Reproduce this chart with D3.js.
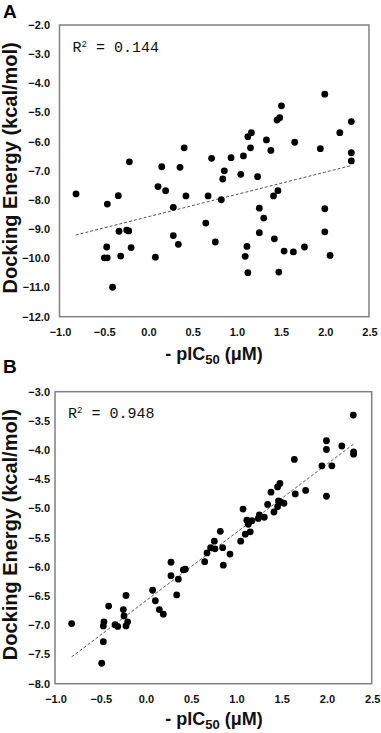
<!DOCTYPE html>
<html><head><meta charset="utf-8">
<script src="https://cdn.jsdelivr.net/npm/d3@7"></script>
<style>html,body{margin:0;padding:0;background:#fff;}svg{display:block;}</style>
</head><body>
<svg id="c" width="381" height="733"></svg>
<script>
// ---- DATA ----
const xTicks = [-1.0, -0.5, 0.0, 0.5, 1.0, 1.5, 2.0, 2.5];
const aYTicks = [-2, -3, -4, -5, -6, -7, -8, -9, -10, -11, -12];
const bYTicks = [-3.0, -3.5, -4.0, -4.5, -5.0, -5.5, -6.0, -6.5, -7.0, -7.5, -8.0];
const aX = [-0.21,0.156,0.363,0.41,0.72,0.94,1.08,0.864,0.846,1.05,1.24,1.13,1.17,1.16,1.34,1.39,1.46,1.49,1.51,1.66,1.95,2.0,2.17,2.30,2.30,2.30,
  -0.813,-0.459,-0.335,0.114,0.20,0.43,0.68,0.83,0.287,1.42,1.47,0.654,-0.327,-0.24,-0.217,0.287,0.344,-0.466,-0.493,-0.46,-0.308,-0.19,-0.40,0.084,0.762,
  1.26,1.31,1.26,1.43,1.12,1.10,1.13,1.48,1.54,1.645,1.77,2.0,2.0,2.06];
const aY = [-6.69,-6.86,-6.88,-6.21,-6.57,-6.55,-6.49,-7.0,-7.28,-7.12,-7.2,-5.83,-5.69,-6.21,-5.94,-6.30,-5.26,-5.18,-4.77,-6.02,-6.24,-4.37,-5.69,-5.31,-6.38,-6.66,
  -7.79,-8.14,-7.85,-7.54,-7.68,-7.86,-7.86,-7.99,-8.25,-7.86,-7.68,-8.79,-9.07,-9.03,-9.06,-9.22,-9.52,-9.61,-9.98,-9.98,-9.92,-9.63,-10.99,-9.96,-9.44,
  -8.28,-8.62,-9.12,-9.33,-9.59,-9.93,-10.49,-10.47,-9.75,-9.78,-9.61,-8.30,-9.09,-9.90];
const bX = [2.297,2.0,2.0,2.17,2.30,2.30,1.95,2.06,1.645,2.0,1.655,1.77,1.486,1.46,1.387,1.35,1.47,1.495,1.53,1.46,1.42,1.078,1.12,1.136,1.177,1.258,1.247,1.313,
  1.103,1.158,1.052,0.827,0.761,0.72,0.768,0.853,0.68,0.934,0.654,0.86,0.282,0.282,0.418,0.44,0.363,0.345,0.079,0.109,0.153,0.197,
  -0.215,-0.407,-0.245,-0.237,-0.197,-0.215,-0.337,-0.307,-0.459,-0.466,-0.466,-0.484,-0.816];
const bY = [-3.40,-3.84,-3.99,-3.93,-4.03,-4.07,-4.27,-4.27,-4.16,-4.79,-4.75,-4.69,-4.57,-4.63,-4.72,-4.93,-4.87,-4.89,-4.91,-4.97,-5.06,-5.01,-5.20,-5.27,-5.21,-5.11,-5.17,-5.15,
  -5.44,-5.40,-5.56,-5.39,-5.56,-5.67,-5.69,-5.67,-5.76,-5.78,-5.91,-5.97,-5.92,-6.15,-6.05,-6.04,-6.21,-6.48,-6.40,-6.58,-6.73,-6.81,
  -6.49,-6.67,-6.73,-6.84,-6.94,-7.01,-6.99,-7.02,-6.94,-7.01,-7.28,-7.65,-6.97];
const aFit = [-0.817, 2.305];   // x extent of trend line
const aFitCoef = [0.764, -8.576]; // slope, intercept
const bFit = [-0.816, 2.297];
const bFitCoef = [1.169, -6.586];
const panelLabels = ["A", "B"];
const r2Values = ["0.144", "0.948"];

// ---- DRAW ----
const svg = d3.select("#c");
const panels = [
  {lab: panelLabels[0], r2: r2Values[0], xs: aX, ys: aY, fit: aFit, coef: aFitCoef, yTicks: aYTicks, yDom: [-12, -2],
   xr: [59.5, 369], yr: [316.7, 25], labY: 18, titleOff: 43.5},
  {lab: panelLabels[1], r2: r2Values[1], xs: bX, ys: bY, fit: bFit, coef: bFitCoef, yTicks: bYTicks, yDom: [-8, -3],
   xr: [55, 371.7], yr: [683.7, 391.7], labY: 373, titleOff: 41.3}
];
const fmt = d3.format(".1f");
const sans = "Liberation Sans, Arial, sans-serif";
panels.forEach(p => {
  const x = d3.scaleLinear().domain([-1, 2.5]).range(p.xr);
  const y = d3.scaleLinear().domain(p.yDom).range(p.yr);
  const g = svg.append("g");
  // frame
  g.append("rect").attr("x", p.xr[0]).attr("y", p.yr[1]).attr("width", p.xr[1]-p.xr[0]).attr("height", p.yr[0]-p.yr[1])
    .attr("fill", "none").attr("stroke", "#808080").attr("stroke-width", 1.5);
  // y tick labels
  g.selectAll(".yt").data(p.yTicks).enter().append("text")
    .attr("x", 50).attr("y", d => y(d)).attr("dy", "0.36em").attr("text-anchor", "end")
    .attr("font-family", sans).attr("font-weight", "bold").attr("font-size", 11)
    .attr("fill", "#111").text(d => fmt(d));
  // x tick labels
  g.selectAll(".xt").data(xTicks).enter().append("text")
    .attr("x", d => x(d) + 1).attr("y", p.yr[0] + 19).attr("text-anchor", "middle")
    .attr("font-family", sans).attr("font-weight", "bold").attr("font-size", 11)
    .attr("fill", "#111").text(d => fmt(d));
  // trend line
  const line = d3.line().x(d => x(d)).y(d => y(p.coef[0]*d + p.coef[1]));
  g.append("path").attr("d", line(p.fit)).attr("fill", "none").attr("stroke", "#555")
    .attr("stroke-width", 1).attr("stroke-dasharray", "3,2");
  // points
  g.selectAll("circle").data(p.xs.map((v, i) => [v, p.ys[i]])).enter().append("circle")
    .attr("cx", d => x(d[0])).attr("cy", d => y(d[1])).attr("r", 3.4).attr("fill", "#000");
  // R2 text
  const t = g.append("text").attr("x", p.xr[0] + 13).attr("y", p.yr[1] + 26.5)
    .attr("font-family", "Liberation Mono, Courier New, monospace").attr("font-size", 15).attr("fill", "#111");
  t.append("tspan").text("R");
  t.append("tspan").attr("font-size", 9).attr("dy", -5).text("2");
  t.append("tspan").attr("dy", 5).text(" = " + p.r2);
  // panel label
  g.append("text").attr("x", 3).attr("y", p.labY).attr("font-family", sans)
    .attr("font-weight", "bold").attr("font-size", 19).attr("fill", "#000").text(p.lab);
  // y title
  const cy = (p.yr[0] + p.yr[1]) / 2 - 3;
  g.append("text").attr("transform", `translate(17,${cy}) rotate(-90)`).attr("text-anchor", "middle")
    .attr("font-family", sans).attr("font-weight", "bold").attr("font-size", 20)
    .attr("fill", "#111").text("Docking Energy (kcal/mol)");
  // x title
  const xt = g.append("text").attr("x", 214).attr("y", p.yr[0] + p.titleOff).attr("text-anchor", "middle")
    .attr("font-family", sans).attr("font-weight", "bold").attr("font-size", 18)
    .attr("fill", "#111");
  xt.append("tspan").text("- pIC");
  xt.append("tspan").attr("font-size", 13).attr("dy", 4).text("50");
  xt.append("tspan").attr("dy", -4).text(" (\u03BCM)");
});
</script>
</body></html>
